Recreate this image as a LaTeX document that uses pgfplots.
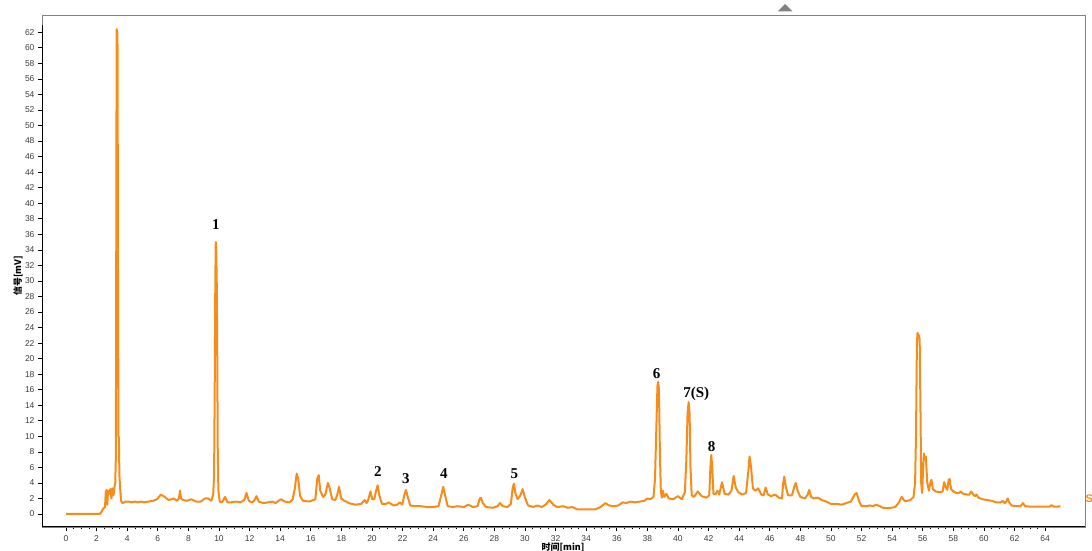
\documentclass[border=0pt]{standalone}
\usepackage{fontspec}
\setmainfont{Liberation Sans}
\newfontfamily\timesfont{Liberation Serif}
\newfontfamily\cjk{Noto Sans CJK SC}
\usepackage{pgfplots}
\usepackage{pgfplotstable}
\pgfplotsset{compat=1.18}
\definecolor{chrom}{RGB}{247,140,26}
\definecolor{framegray}{RGB}{130,130,130}
\definecolor{ticktext}{RGB}{60,60,60}

\pgfplotstableread{
x y
0 0
2.2 0
2.3 0.2
2.4 0.6
2.5 0.8
2.55 0.9
2.6 2.8
2.65 3.1
2.7 1.2
2.75 3.0
2.82 2.6
2.9 3.2
2.97 2.0
3.03 3.3
3.1 2.4
3.17 3.5
3.22 4.0
3.26 7.5
3.29 40
3.31 62.4
3.35 62.0
3.37 60
3.40 30
3.43 10
3.46 9.8
3.49 5
3.55 3
3.6 1.7
3.7 1.4
3.9 1.6
4.1 1.6
4.3 1.5
4.5 1.6
4.7 1.5
4.9 1.6
5.1 1.5
5.4 1.6
5.7 1.7
5.95 1.9
6.2 2.5
6.45 2.2
6.7 1.8
6.9 1.9
7.05 2.0
7.25 1.7
7.38 2.0
7.45 3.0
7.52 2.0
7.65 1.8
7.9 1.7
8.2 1.9
8.5 1.6
8.8 1.6
9.1 2.0
9.3 2.0
9.5 1.7
9.62 2.5
9.68 5
9.72 16
9.76 30
9.79 35
9.82 34
9.86 29
9.89 19
9.92 8
9.96 3
10.05 1.6
10.2 1.5
10.4 2.2
10.55 1.5
10.8 1.5
11.1 1.6
11.4 1.5
11.65 1.8
11.8 2.7
11.95 1.7
12.15 1.5
12.3 1.7
12.45 2.3
12.6 1.6
12.9 1.4
13.2 1.5
13.5 1.6
13.7 1.4
13.9 1.7
14.05 1.9
14.3 1.6
14.6 1.5
14.8 1.8
14.95 3.2
15.08 5.2
15.18 4.5
15.3 2.3
15.5 1.7
15.9 1.6
16.3 1.9
16.42 4.5
16.52 5.0
16.62 3.0
16.8 2.2
16.95 2.5
17.12 4.0
17.25 3.2
17.4 1.9
17.6 1.8
17.72 2.4
17.85 3.5
17.98 2.0
18.2 1.7
18.5 1.4
18.9 1.2
19.3 1.3
19.52 1.8
19.65 1.4
19.75 1.8
19.9 2.9
20.02 1.9
20.15 1.9
20.27 3.0
20.37 3.7
20.48 2.4
20.65 1.3
20.9 1.3
21.1 1.5
21.4 1.1
21.65 1.2
21.82 1.5
21.98 1.2
22.12 2.5
22.22 3.1
22.34 2.2
22.5 1.1
22.8 1.0
23.2 1.0
23.6 0.9
24.0 0.9
24.35 1.0
24.55 2.6
24.66 3.5
24.78 2.4
24.95 1.0
25.3 0.9
25.6 1.0
26.0 0.9
26.3 1.2
26.6 0.9
26.9 1.0
27.05 2.0
27.12 2.1
27.25 1.4
27.45 0.9
27.9 0.8
28.2 1.0
28.37 1.4
28.55 1.0
28.85 0.9
29.08 1.3
29.2 3.4
29.28 3.9
29.38 2.6
29.52 1.9
29.7 2.4
29.85 3.2
29.97 2.3
30.2 1.1
30.55 0.9
30.8 1.1
31.1 0.9
31.35 1.2
31.6 1.8
31.85 1.2
32.1 0.9
32.5 1.0
32.8 0.8
33.1 0.9
33.4 0.6
34.0 0.6
34.6 0.6
34.95 0.9
35.25 1.4
35.5 1.1
35.8 1.0
36.1 1.1
36.4 1.5
36.6 1.4
36.9 1.6
37.2 1.5
37.5 1.6
37.8 1.7
38.0 2.0
38.2 1.9
38.4 2.2
38.5 4.5
38.6 12
38.66 16.5
38.71 17.0
38.76 16
38.82 8
38.88 3
38.95 2.1
39.02 3.0
39.1 2.2
39.25 2.6
39.4 2.0
39.7 1.9
40.0 2.3
40.25 1.9
40.45 2.8
40.55 7
40.63 13
40.7 14.4
40.76 13
40.82 6
40.9 2.4
41.05 2.2
41.3 2.9
41.55 2.3
41.85 2.1
42.05 2.4
42.12 6
42.18 7.6
42.24 6
42.32 2.6
42.45 2.5
42.58 3.0
42.7 2.5
42.88 4.1
43.05 2.6
43.3 2.5
43.5 3.0
43.64 4.9
43.78 3.4
43.95 2.8
44.2 2.5
44.45 2.7
44.6 5.5
44.68 7.4
44.78 6
44.9 3.3
45.05 3.0
45.25 3.3
45.45 2.5
45.6 2.4
45.73 3.4
45.88 2.5
46.1 2.3
46.35 2.5
46.6 2.1
46.8 2.0
46.88 4.0
46.95 4.8
47.05 3.5
47.2 2.4
47.45 2.4
47.62 3.6
47.7 4.0
47.82 3.0
48.0 2.2
48.3 2.0
48.48 2.5
48.58 3.1
48.7 2.2
48.9 2.0
49.15 2.1
49.4 1.8
49.7 1.6
50.0 1.3
50.4 1.3
50.7 1.2
51.0 1.4
51.3 1.6
51.55 2.5
51.68 2.7
51.85 1.6
52.0 1.0
52.3 1.0
52.55 1.1
52.75 1.0
52.95 1.2
53.2 1.0
53.4 0.8
53.8 0.75
54.2 0.9
54.45 1.5
54.62 2.2
54.8 1.7
55.0 1.7
55.2 1.8
55.4 2.2
55.5 4
55.56 10
55.62 22
55.66 23.3
55.74 23
55.8 22.5
55.85 14
55.9 4
55.96 2.7
56.03 6
56.08 7.8
56.14 7.0
56.2 7.4
56.3 4
56.4 3.0
56.5 4.0
56.57 4.4
56.66 3.2
56.85 2.9
57.1 2.8
57.3 2.9
57.4 4.1
57.5 3.5
57.6 3.1
57.7 4.4
57.76 4.5
57.85 3.2
58.0 2.9
58.2 2.7
58.35 2.7
58.48 2.9
58.65 2.6
58.9 2.5
59.05 2.5
59.17 2.9
59.3 2.5
59.42 2.3
59.52 2.5
59.65 2.1
59.9 1.9
60.2 1.8
60.5 1.7
60.8 1.5
61.1 1.5
61.22 1.7
61.35 1.4
61.47 1.6
61.55 2.0
61.65 1.5
61.8 1.1
62.1 1.0
62.4 1.0
62.55 1.4
62.7 1.0
63.0 0.95
63.5 0.95
64.0 0.95
64.3 0.95
64.42 1.15
64.55 0.95
64.8 0.95
65.0 1.0
}\chromdata

\begin{document}
\begin{tikzpicture}
\path[use as bounding box] (0,0) rectangle (1092pt,551pt);
\begin{axis}[
  at={(42pt,24pt)}, anchor=south west,
  scale only axis, width=1043pt, height=512pt,
  xmin=-1.569, xmax=66.61, ymin=-1.673, ymax=64.22,
  axis line style={draw=framegray, line width=0.9pt},
  xtick={0,2,...,64}, ytick={0,2,...,62},
  minor x tick num=3,
  tick align=outside, xtick pos=bottom, ytick pos=left,
  major tick length=4pt, minor tick length=2.5pt,
  tick style={black, line width=0.6pt},
  ticklabel style={font=\fontsize{8.5}{10}\selectfont, text=ticktext},
  /pgf/number format/assume math mode=true,
  xticklabel style={yshift=-1.5pt},
]
\addplot[chrom, line width=2pt, line join=round, no markers] table[x=x,y=y] {\chromdata};
\draw[black, line width=1.3pt] (rel axis cs:0,0.98) -- (rel axis cs:0,0) -- (rel axis cs:1,0);
\begin{scope}[every node/.style={font=\timesfont\bfseries\fontsize{15}{17}\selectfont, inner sep=0pt, text=black}]
\node at (axis cs:9.80,37.3) {1};
\node at (axis cs:20.39,5.41) {2};
\node at (axis cs:22.22,4.5) {3};
\node at (axis cs:24.7,5.15) {4};
\node at (axis cs:29.3,5.15) {5};
\node at (axis cs:38.6,18.1) {6};
\node at (axis cs:41.2,15.4) {7(S)};
\node at (axis cs:42.2,8.65) {8};
\end{scope}
\end{axis}
\fill[framegray] (777.5pt,539.5pt) -- (792.5pt,539.5pt) -- (785pt,547pt) -- cycle;
\node[rotate=90, font=\cjk\bfseries\fontsize{9}{10}\selectfont, text=black, inner sep=0pt] at (18pt,275pt) {信号[mV]};
\node[anchor=north, font=\cjk\bfseries\fontsize{9}{10}\selectfont, text=black, inner sep=0pt] at (563pt,8pt) {时间[min]};
\node[anchor=west, font=\fontsize{11}{12}\selectfont\bfseries, text=chrom, inner sep=0pt] at (1085.5pt,52pt) {S};
\end{tikzpicture}
\end{document}
